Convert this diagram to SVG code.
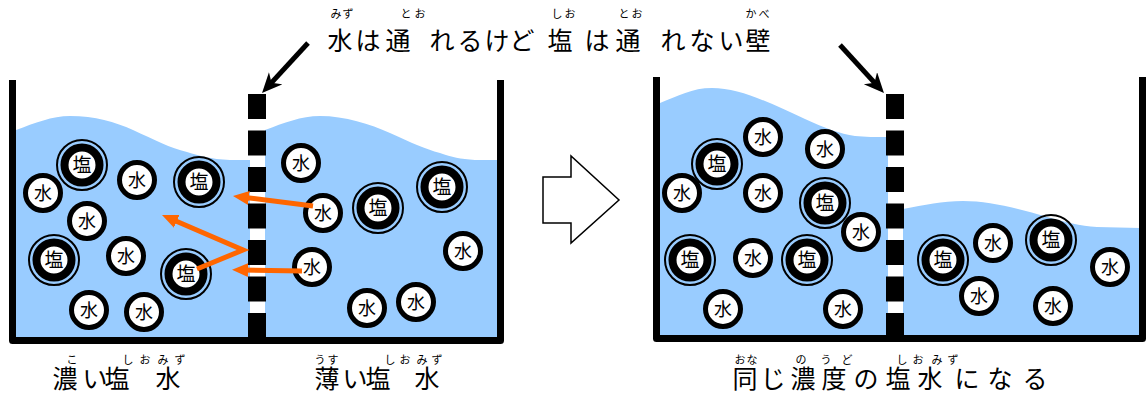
<svg xmlns="http://www.w3.org/2000/svg" xmlns:xlink="http://www.w3.org/1999/xlink" width="1146" height="398" viewBox="0 0 1146 398">
  <defs>
    <style>
      .water{fill:#99CCFF}
      .wall{fill:none;stroke:#000;stroke-width:7;stroke-linejoin:round;stroke-linecap:butt}
      .blk{fill:#000}
      .w-ring{fill:#fff;stroke:#000;stroke-width:5}
      .s-outer{fill:none;stroke:#000;stroke-width:2}
      .s-ring{fill:#fff;stroke:#000;stroke-width:8}
      .jp{font-family:"Noto Sans CJK JP","Noto Sans CJK SC",sans-serif;fill:#000;text-anchor:middle}
      .mol-w{font-size:18px}
      .mol-s{font-size:19px}
      .big{font-size:25px}
      .ruby{font-size:11px}
      .flow{fill:none;stroke:#FF6600;stroke-width:5;stroke-linejoin:miter}
      .point{fill:none;stroke:#000;stroke-width:5}
      .next{fill:#fff;stroke:#000;stroke-width:1.5}
    </style>
    <marker id="head-orange" markerUnits="userSpaceOnUse" markerWidth="18" markerHeight="16" refX="6" refY="8" orient="auto">
      <path d="M0,1 L16,8 L0,15 Z" fill="#FF6600"/>
    </marker>
    <marker id="head-black" markerUnits="userSpaceOnUse" markerWidth="22" markerHeight="20" refX="10" refY="9" orient="auto">
      <path d="M0,0 L20,9 L0,18 L6,9 Z" fill="#000"/>
    </marker>
    <!-- water molecule -->
    <g id="mizu">
      <circle r="17.5" class="w-ring"/>
      <text y="6.5" class="jp mol-w">水</text>
    </g>
    <!-- salt molecule -->
    <g id="shio">
      <circle r="25" class="s-outer"/>
      <circle r="17.5" class="s-ring"/>
      <text y="7" class="jp mol-s">塩</text>
    </g>
    <!-- striped semi-permeable wall -->
    <g id="stripes">
      <rect x="0" y="94" width="18" height="25"/>
      <rect x="0" y="130.5" width="18" height="25"/>
      <rect x="0" y="167" width="18" height="25"/>
      <rect x="0" y="203.5" width="18" height="25"/>
      <rect x="0" y="240" width="18" height="25"/>
      <rect x="0" y="276.5" width="18" height="25"/>
      <rect x="0" y="313" width="18" height="28"/>
    </g>
  </defs>

  <rect width="1146" height="398" fill="#fff"/>

  <!-- before: left tank -->
  <g id="tank-before">
    <path class="water" d="M16,130 C35,123 52,116 70,116 C95,116 115,122 133,130 C155,140 170,148 187,152 C200,156 210,159 230,160 L250,160 L250,337 L16,337 Z"/>
    <path class="water" d="M265,130 C284,123 301,116 320,116 C345,116 370,124 390,133 C412,143 425,149 440,153 C452,157 460,159 475,160 L498,160 L498,337 L265,337 Z"/>
    <path class="wall" d="M12.5,80 V340.5 H500.5 V80"/>
    <use xlink:href="#stripes" class="blk" x="248"/>
  </g>

  <!-- after: right tank -->
  <g id="tank-after">
    <path class="water" d="M660,103 C678,96 692,88 712,88 C740,88 770,103 805,119 C825,128 840,134 855,136 C865,137 875,137 888,137 L888,335 L660,335 Z"/>
    <path class="water" d="M903,209 C925,205 942,201 963,201 C990,201 1020,209 1047,217 C1065,222 1080,226 1097,227 L1140,228 L1140,335 L903,335 Z"/>
    <path class="wall" d="M656.5,77 V338.5 H1142.5 V77"/>
    <use xlink:href="#stripes" class="blk" x="886"/>
  </g>

  <!-- molecules, before -->
  <g id="s1"><use xlink:href="#shio" x="82" y="165"/></g>
  <g id="w1"><use xlink:href="#mizu" x="43" y="193"/></g>
  <g id="w2"><use xlink:href="#mizu" x="137" y="180"/></g>
  <g id="s2"><use xlink:href="#shio" x="199" y="182"/></g>
  <g id="w3"><use xlink:href="#mizu" x="87" y="221"/></g>
  <g id="s3"><use xlink:href="#shio" x="54" y="260"/></g>
  <g id="w4"><use xlink:href="#mizu" x="126" y="256"/></g>
  <g id="s4"><use xlink:href="#shio" x="186" y="274"/></g>
  <g id="w5"><use xlink:href="#mizu" x="89" y="310"/></g>
  <g id="w6"><use xlink:href="#mizu" x="144" y="312"/></g>

  <g id="w7"><use xlink:href="#mizu" x="301" y="163"/></g>
  <g id="w8"><use xlink:href="#mizu" x="323" y="213"/></g>
  <g id="s5"><use xlink:href="#shio" x="378" y="208"/></g>
  <g id="s6"><use xlink:href="#shio" x="442" y="187"/></g>
  <g id="w9"><use xlink:href="#mizu" x="312" y="267"/></g>
  <g id="w10"><use xlink:href="#mizu" x="463" y="251"/></g>
  <g id="w11"><use xlink:href="#mizu" x="367" y="308"/></g>
  <g id="w12"><use xlink:href="#mizu" x="416" y="302"/></g>

  <!-- molecules, after -->
  <g id="w13"><use xlink:href="#mizu" x="763" y="137"/></g>
  <g id="w14"><use xlink:href="#mizu" x="825" y="149"/></g>
  <g id="s7"><use xlink:href="#shio" x="717" y="164"/></g>
  <g id="w15"><use xlink:href="#mizu" x="682" y="193"/></g>
  <g id="w16"><use xlink:href="#mizu" x="763" y="193"/></g>
  <g id="s8"><use xlink:href="#shio" x="825" y="203"/></g>
  <g id="w17"><use xlink:href="#mizu" x="861" y="232"/></g>
  <g id="s9"><use xlink:href="#shio" x="690" y="260"/></g>
  <g id="w18"><use xlink:href="#mizu" x="753" y="258"/></g>
  <g id="s10"><use xlink:href="#shio" x="807" y="260"/></g>
  <g id="w19"><use xlink:href="#mizu" x="723" y="309"/></g>
  <g id="w20"><use xlink:href="#mizu" x="843" y="309"/></g>

  <g id="s11"><use xlink:href="#shio" x="943" y="260"/></g>
  <g id="w21"><use xlink:href="#mizu" x="993" y="243"/></g>
  <g id="s12"><use xlink:href="#shio" x="1051" y="240"/></g>
  <g id="w22"><use xlink:href="#mizu" x="979" y="296"/></g>
  <g id="w23"><use xlink:href="#mizu" x="1053" y="306"/></g>
  <g id="w24"><use xlink:href="#mizu" x="1110" y="267"/></g>

  <!-- transition arrow -->
  <g id="next-step">
    <polygon class="next" points="543,177 571,177 571,156 619,200 571,243 571,223 543,223"/>
  </g>

  <!-- connectors -->
  <g id="connectors">
    <polyline class="flow" points="197,269 243,250 171.2,219" marker-end="url(#head-orange)"/>
    <line class="flow" x1="313" y1="206" x2="242.9" y2="197.2" marker-end="url(#head-orange)"/>
    <line class="flow" x1="302" y1="271" x2="242" y2="270" marker-end="url(#head-orange)"/>
    <line class="point" x1="308" y1="43" x2="268.8" y2="85.6" marker-end="url(#head-black)"/>
    <line class="point" x1="840" y1="45" x2="877.2" y2="85.6" marker-end="url(#head-black)"/>
  </g>

  <!-- title -->
  <g id="title">
    <text class="jp big" y="50" x="340 368 398 442 470 497 522 560 597 628 673 702 731 758">水は通れるけど塩は通れない壁</text>
    <text class="jp ruby" y="18" x="336 348">みず</text>
    <text class="jp ruby" y="18" x="406 420">とお</text>
    <text class="jp ruby" y="18" x="557 570">しお</text>
    <text class="jp ruby" y="18" x="624 637">とお</text>
    <text class="jp ruby" y="18" x="751 764">かべ</text>
  </g>

  <!-- labels -->
  <g id="label-dense">
    <text class="jp ruby" y="364" x="72">こ</text>
    <text class="jp ruby" y="364" x="128 145 163 180">しおみず</text>
    <text class="jp big" y="388" x="65 95 117 168">濃い塩水</text>
  </g>
  <g id="label-thin">
    <text class="jp ruby" y="364" x="320 333">うす</text>
    <text class="jp ruby" y="364" x="390 405 422 437">しおみず</text>
    <text class="jp big" y="388" x="327 355 378 427">薄い塩水</text>
  </g>
  <g id="label-same">
    <text class="jp ruby" y="364" x="740 752">おな</text>
    <text class="jp ruby" y="364" x="801 826 847">のうど</text>
    <text class="jp ruby" y="364" x="902 918 937 953">しおみず</text>
    <text class="jp big" y="388" x="745 773 803 834 866 898 930 967 1000 1035">同じ濃度の塩水になる</text>
  </g>
</svg>
